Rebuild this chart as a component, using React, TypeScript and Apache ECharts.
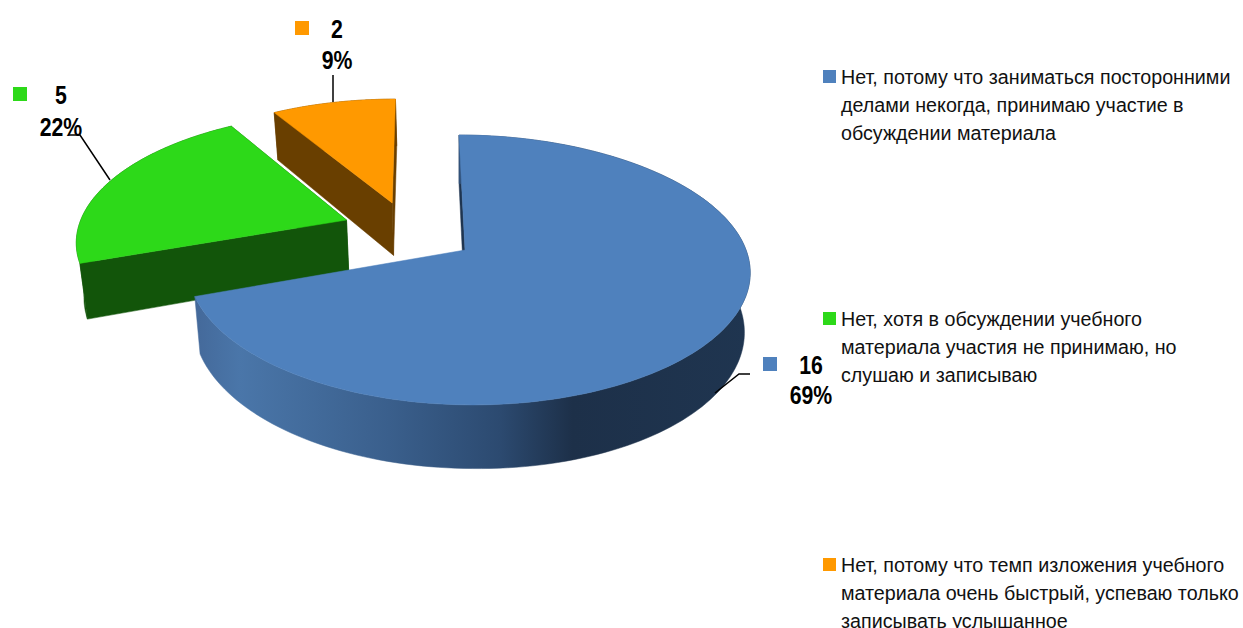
import React, { useEffect, useRef } from "react";
import * as echarts from "echarts";

const categories = [
  "Нет, потому что заниматься посторонними\nделами некогда, принимаю участие в\nобсуждении материала",
  "Нет, хотя в обсуждении учебного\nматериала участия не принимаю, но\nслушаю и записываю",
  "Нет, потому что темп изложения учебного\nматериала очень быстрый, успеваю только\nзаписывать услышанное",
];
const counts = [16, 5, 2];
const percents = ["69%", "22%", "9%"];

const faceColors = ["#4f81bd", "#2dd919", "#ff9900"];
const wallColors = ["#1f3550", "#12550a", "#693f00"];
const explode = [[0, 0], [-0.44, -0.235], [-0.27, -0.376]];
const labelPos = [
  { mark: [763, 357], x: 811, y: [365, 395], line: [[715, 393], [739, 374], [750, 374]] },
  { mark: [13, 87], x: 61, y: [95, 127], line: [[69, 135], [80, 135], [110, 180]] },
  { mark: [295, 21], x: 337, y: [29, 60], line: [[333, 75], [333, 102]] },
];
const legendCenters = [77, 319, 565];

const CX = 465, CY = 250, R = 275, A = 132, K = 0.148, SHEAR = 0.052;

function project(u: number, v: number): [number, number] {
  const d = 1 - K * v;
  const y = (A * v) / d;
  const x = (R * u * (1 + 0.022 * Math.max(u, 0))) / d + SHEAR * y;
  return [CX + x, CY + y];
}
function drop(p: number[]): [number, number] {
  const y = p[1] - CY;
  const extra = 0.012 * Math.max(p[0] - CX, 0);
  return [p[0] + (460 - p[0]) * 0.02, p[1] + 55 + 0.055 * y + extra];
}

const FONT = '"Liberation Sans", Arial, sans-serif';

export default function App() {
  const ref = useRef<HTMLDivElement>(null);
  useEffect(() => {
    const chart = echarts.init(ref.current!, undefined, { renderer: "svg" });
    const total = counts.reduce((a, b) => a + b, 0);
    const blueGrad = new echarts.graphic.LinearGradient(195, 0, 750, 0, [
      { offset: 0, color: "#44699a" },
      { offset: 0.08, color: "#4a76a9" },
      { offset: 0.35, color: "#3a5f8c" },
      { offset: 0.55, color: "#2c4a70" },
      { offset: 0.68, color: "#1d3049" },
      { offset: 1, color: "#1f3550" },
    ], true);

    const renderSlice = (i: number) => (_params: any, api: any) => {
      const value = api.value(0);
      const before = counts.slice(0, i).reduce((a, b) => a + b, 0);
      const a0 = (before / total) * 2 * Math.PI;
      const a1 = a0 + (value / total) * 2 * Math.PI;
      const [du, dv] = explode[i];
      const apex = project(du, dv);
      const rim: [number, number][] = [];
      const n = 160;
      for (let s = 0; s <= n; s++) {
        const t = a0 + ((a1 - a0) * s) / n;
        rim.push(project(Math.sin(t) + du, -Math.cos(t) + dv));
      }
      const rimBottom = rim.map(drop);
      const wall = wallColors[i];
      const poly = (points: number[][], fill: any) => ({
        type: "polygon", shape: { points }, style: { fill, stroke: fill, lineWidth: 0.5 },
      });
      const first = rim[0], last = rim[n];
      const edgeStart = [apex, first, drop(first), drop(apex)];
      const edgeEnd = [apex, last, drop(last), drop(apex)];
      const rimWall = poly([...rim, ...rimBottom.slice().reverse()], i === 0 ? blueGrad : wall);
      const children: any[] = [];
      if (i === 0) children.push(poly(edgeStart, wall), rimWall);
      else children.push(poly(edgeEnd, wall), rimWall, poly(edgeStart, wall));
      children.push(poly([apex, ...rim], faceColors[i]));
      return { type: "group", children };
    };

    const renderLabel = (i: number) => (_params: any, api: any) => {
      const p = labelPos[i];
      const font = `bold 25px ${FONT}`;
      const txt = (text: string, y: number) => ({
        type: "text", x: p.x, y, scaleX: 0.85,
        style: { text, x: 0, y: 0, font, fill: "#000", align: "center", verticalAlign: "middle" },
      });
      return {
        type: "group",
        children: [
          { type: "polyline", shape: { points: p.line }, style: { fill: "none", stroke: "#000", lineWidth: 1.5 } },
          { type: "rect", shape: { x: p.mark[0], y: p.mark[1], width: 14, height: 14 }, style: { fill: faceColors[i] } },
          txt(String(api.value(0)), p.y[0]),
          txt(percents[i], p.y[1]),
        ],
      };
    };

    chart.setOption({
      animation: false,
      backgroundColor: "#fff",
      graphic: {
        elements: categories.flatMap((c, i) => [
          {
            type: "rect", silent: true,
            shape: { x: 823, y: legendCenters[i] - 7, width: 13, height: 13 },
            style: { fill: faceColors[i] },
          },
          {
            type: "text", silent: true, x: 841, y: legendCenters[i] - 14, scaleX: 0.985,
            style: { text: c, x: 0, y: 0, font: `20px ${FONT}`, lineHeight: 28, fill: "#111", align: "left", verticalAlign: "top" },
          },
        ]),
      },
      series: [
        ...[2, 1, 0].map((i) => ({
          type: "custom",
          name: categories[i],
          coordinateSystem: "none",
          itemStyle: { color: faceColors[i] },
          data: [[counts[i]]],
          renderItem: renderSlice(i),
          z: 5 - i,
          silent: true,
        })),
        ...[0, 1, 2].map((i) => ({
          type: "custom",
          coordinateSystem: "none",
          data: [[counts[i]]],
          renderItem: renderLabel(i),
          z: 10,
          silent: true,
        })),
      ],
    });
    return () => chart.dispose();
  }, []);
  return (
    <div style={{ position: "absolute", left: 0, top: 0, width: 1243, height: 628, overflow: "hidden" }}>
      <div ref={ref} style={{ width: 1243, height: 628 }} />
    </div>
  );
}
